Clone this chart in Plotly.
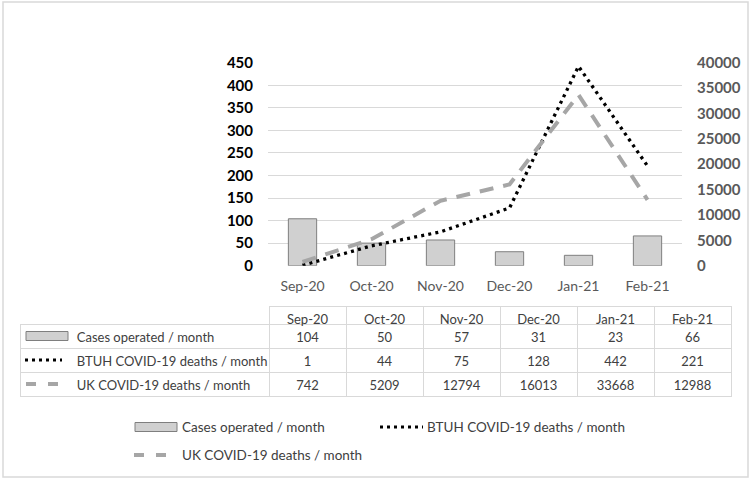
import plotly.graph_objects as go

# ---- data ----
months = ["Sep-20", "Oct-20", "Nov-20", "Dec-20", "Jan-21", "Feb-21"]
cases_operated = [104, 50, 57, 31, 23, 66]
btuh_deaths = [1, 44, 75, 128, 442, 221]
uk_deaths = [742, 5209, 12794, 16013, 33668, 12988]
series_names = ["Cases operated / month",
                "BTUH COVID-19 deaths / month",
                "UK COVID-19 deaths / month"]
left_ticks = [0, 50, 100, 150, 200, 250, 300, 350, 400, 450]
right_ticks = [0, 5000, 10000, 15000, 20000, 25000, 30000, 35000, 40000]

W, H = 750, 479
FONT = "Lato"


def fx(x):
    return x / W


def fy(y):
    return 1 - y / H


BAR_FILL = "#d0d0d0"
BAR_LINE = "#7f7f7f"
UK_COLOR = "#a6a6a6"
DOT_DASH = "3px,4.2px"
UK_DASH = "14px,10px"

fig = go.Figure()
fig.add_trace(go.Bar(
    x=months, y=cases_operated, name=series_names[0], width=0.41,
    marker=dict(color=BAR_FILL, line=dict(color=BAR_LINE, width=1)),
    showlegend=False, yaxis="y"))
fig.add_trace(go.Scatter(
    x=months, y=uk_deaths, name=series_names[2], mode="lines", yaxis="y2",
    line=dict(color=UK_COLOR, width=4, dash=UK_DASH), showlegend=False))
fig.add_trace(go.Scatter(
    x=months, y=btuh_deaths, name=series_names[1], mode="lines", yaxis="y",
    line=dict(color="black", width=3.3, dash=DOT_DASH), showlegend=False))

# ---- data table ----
pad = "\u2003\u2003\u2003\u2002\u2002\u2002"
first_col = [pad + n.replace(" ", "\u00a0") for n in series_names]
cols = [first_col] + [[str(a), str(b), str(c)] for a, b, c in
                      zip(cases_operated, btuh_deaths, uk_deaths)]
grid = "#d9d9d9"
fig.add_trace(go.Table(
    domain=dict(x=[fx(20), fx(731)], y=[fy(400), fy(306)]),
    columnwidth=[249] + [77] * 6,
    header=dict(values=[""] + months, height=18,
                align="center",
                fill_color="white",
                line=dict(color=["rgba(0,0,0,0)"] + [grid] * 6, width=1),
                font=dict(family=FONT, size=13, color="#404040")),
    cells=dict(values=cols, height=24,
               align=["left"] + ["center"] * 6,
               fill_color="white",
               line=dict(color=grid, width=1),
               font=dict(family=FONT, size=13, color="#404040")),
))

shapes = []
# outer frame
shapes.append(dict(type="rect", xref="paper", yref="paper",
                   x0=fx(3), x1=fx(748), y0=fy(477), y1=fy(2),
                   line=dict(color="#d9d9d9", width=1.5), layer="below"))


def bar_sym(x0, x1, yc):
    shapes.append(dict(type="rect", xref="paper", yref="paper",
                       x0=fx(x0), x1=fx(x1), y0=fy(yc + 4.5), y1=fy(yc - 4.5),
                       fillcolor=BAR_FILL, line=dict(color=BAR_LINE, width=1)))


def dot_sym(x0, x1, yc):
    shapes.append(dict(type="line", xref="paper", yref="paper",
                       x0=fx(x0), x1=fx(x1), y0=fy(yc), y1=fy(yc),
                       line=dict(color="black", width=3, dash="3px,4px")))


def dash_sym(x0, x1, yc):
    shapes.append(dict(type="line", xref="paper", yref="paper",
                       x0=fx(x0), x1=fx(x1), y0=fy(yc), y1=fy(yc),
                       line=dict(color=UK_COLOR, width=4, dash="10px,12px")))


# table row symbols
bar_sym(26, 68, 336)
dot_sym(25, 62, 360)
dash_sym(26, 64, 384)

# bottom legend
bar_sym(135, 177, 427)
dot_sym(380, 423, 427)
dash_sym(134, 173, 455)

annotations = []


def leg_text(x, yc, txt):
    annotations.append(dict(xref="paper", yref="paper", x=fx(x), y=fy(yc),
                            xanchor="left", yanchor="middle", text=txt,
                            showarrow=False,
                            font=dict(family=FONT, size=13.5, color="#404040")))


leg_text(180, 427, series_names[0])
leg_text(425, 427, series_names[1])
leg_text(180, 455, series_names[2])

fig.update_layout(
    width=W, height=H,
    margin=dict(l=0, r=0, t=0, b=0),
    paper_bgcolor="white", plot_bgcolor="white",
    bargap=0.59,
    showlegend=False,
    hovermode=False,
    shapes=shapes,
    annotations=annotations,
    xaxis=dict(domain=[fx(268), fx(682)], type="category",
               showgrid=False, showline=False, zeroline=False,
               ticks="", tickfont=dict(family=FONT, size=14, color="#595959"),
               ticklabelstandoff=10, automargin=False),
    yaxis=dict(domain=[fy(265.7), fy(62.7)], range=[0, 450],
               tickvals=left_ticks, showgrid=True, gridcolor="#d9d9d9",
               gridwidth=1, zeroline=False, showline=False, ticks="",
               tickfont=dict(family=FONT, size=15, color="black",
                             weight="bold"),
               ticklabelstandoff=14, automargin=False),
    yaxis2=dict(overlaying="y", side="right", range=[0, 40000],
                tickvals=right_ticks, tickformat="d", showgrid=False,
                zeroline=False, showline=False, ticks="",
                tickfont=dict(family=FONT, size=15, color="#595959",
                              weight="bold"),
                ticklabelstandoff=14, automargin=False),
)

fig.write_html("out.html",
               config={"displayModeBar": False},
               post_script="document.body.style.margin='0';"
                           "document.body.style.overflow='hidden';")
